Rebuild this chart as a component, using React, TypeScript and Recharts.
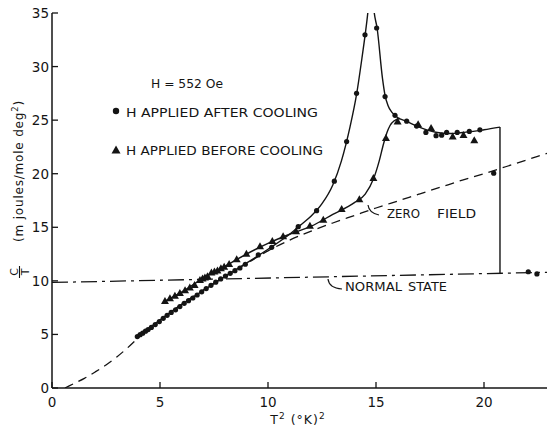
import React from 'react';
import { ComposedChart, Line, Scatter, XAxis, YAxis } from 'recharts';

// ---- tick values ----
const xTicks = [0, 5, 10, 15, 20];
const yTicks = [0, 5, 10, 15, 20, 25, 30, 35];
const topTicks = [5, 10, 15, 20];
const rightTicks = [5, 10, 15, 20, 25, 30];

// ---- H applied after cooling (circles) ----
const afterPoints: [number, number][] = [
  [3.95, 4.8], [4.08, 4.98], [4.2, 5.12], [4.33, 5.3], [4.45, 5.45], [4.6, 5.65],
  [4.78, 5.92], [4.97, 6.2], [5.15, 6.5], [5.33, 6.78], [5.52, 7.05], [5.72, 7.3],
  [5.92, 7.6], [6.12, 7.9], [6.32, 8.15], [6.52, 8.4], [6.72, 8.68], [6.93, 8.98],
  [7.14, 9.28], [7.36, 9.58], [7.58, 9.88], [7.81, 10.18], [8.03, 10.45], [8.25, 10.7],
  [8.47, 10.95], [8.7, 11.2], [8.95, 11.55], [9.55, 12.42], [10.17, 13.13], [11.4, 15.06],
  [12.25, 16.55], [13.07, 19.3], [13.64, 23.0], [14.1, 27.5], [14.49, 32.96],
  [15.03, 33.6], [15.42, 27.2], [15.88, 25.45], [16.42, 24.9], [16.88, 24.45],
  [17.31, 23.85], [17.78, 23.55], [18.04, 23.6], [18.27, 23.85], [18.76, 23.85],
  [19.32, 23.95], [19.81, 24.1], [20.45, 20.05], [22.05, 10.85], [22.45, 10.65],
];

// ---- H applied before cooling (triangles) ----
const beforePoints: [number, number][] = [
  [5.23, 8.1], [5.46, 8.35], [5.69, 8.6], [5.92, 8.85], [6.16, 9.1], [6.38, 9.35],
  [6.6, 9.6], [6.85, 10.05], [6.97, 10.2], [7.08, 10.3], [7.2, 10.4], [7.38, 10.75],
  [7.52, 10.85], [7.66, 10.95], [7.82, 11.15], [7.97, 11.3], [8.2, 11.55], [8.55, 12.0],
  [9.0, 12.5], [9.63, 13.2], [10.2, 13.7], [10.7, 14.15], [11.3, 14.6], [11.94, 15.13],
  [12.56, 15.69], [13.41, 16.68], [14.23, 17.6], [14.88, 19.58], [15.46, 23.31],
  [16.0, 24.85], [16.95, 24.6], [17.55, 24.25], [18.55, 23.45], [19.05, 23.6], [19.55, 23.1],
];

// ---- smooth drawn curves ----
const afterCurve: [number, number][] = [
  [3.95, 4.8], [5, 6.35], [6, 7.8], [7, 9.1], [8, 10.4], [9, 11.65], [10, 12.95],
  [11, 14.35], [11.5, 15.2], [12, 16.05], [12.5, 17.2], [13, 18.95], [13.4, 21.2],
  [13.8, 24.4], [14.1, 27.4], [14.35, 30.8], [14.5, 33.0], [14.62, 35.0], [14.77, 38.5],
  [14.92, 35.0], [15.05, 33.6], [15.3, 28.9], [15.42, 27.3], [15.55, 26.4], [15.75, 25.7],
  [16, 25.25], [16.4, 24.9], [17, 24.35], [17.5, 24.0], [18, 23.8], [18.5, 23.75],
  [19, 23.85], [19.5, 23.95], [20, 24.1], [20.74, 24.35],
];
const dropLine: [number, number][] = [[20.74, 24.35], [20.74, 10.72]];

const beforeCurve: [number, number][] = [
  [5.23, 8.1], [6, 8.95], [7, 10.25], [8, 11.35], [9, 12.5], [10, 13.5], [11, 14.35],
  [12, 15.1], [13, 16.2], [14, 17.3], [14.5, 18.1], [14.9, 19.6], [15.15, 21.2],
  [15.35, 22.8], [15.5, 23.8], [15.65, 24.5], [15.85, 24.95], [16.1, 25.15],
];

const zeroField: [number, number][] = [
  [0.6, 0], [1, 0.4], [1.5, 0.9], [2, 1.5], [2.5, 2.15], [3, 2.9], [3.5, 3.75], [4, 4.7],
  [5, 6.3], [6, 7.8], [7, 9.15], [8, 10.4], [9, 11.6], [10, 12.8], [11, 13.8], [12, 14.65],
  [13, 15.4], [14, 16.1], [15, 16.8], [16, 17.45], [17, 18.1], [18, 18.75], [19, 19.4],
  [20, 20.0], [21, 20.65], [22, 21.3], [23, 21.95],
];

const normalState: [number, number][] = [[0, 9.85], [23, 10.8]];

const toXY = (pts: [number, number][]) => pts.map(([x, y]) => ({ x, y }));

const INK = '#141414';
const FONT = '"DejaVu Sans", "Liberation Sans", sans-serif';

const LeftTick = (props: any) => {
  const { x, y, payload } = props;
  return (
    <g>
      <line x1={x} x2={x + 6} y1={y} y2={y} stroke={INK} strokeWidth={1.3} />
      <text x={x - 3} y={y + 5} textAnchor="end" fontFamily={FONT} fontSize={13.5} fill={INK}>
        {payload.value}
      </text>
    </g>
  );
};

const BottomTick = (props: any) => {
  const { x, y, payload } = props;
  return (
    <g>
      <line x1={x} x2={x} y1={y} y2={y - 6} stroke={INK} strokeWidth={1.3} />
      <text x={x} y={y + 19} textAnchor="middle" fontFamily={FONT} fontSize={13.5} fill={INK}>
        {payload.value}
      </text>
    </g>
  );
};

const CircleMark = (props: any) => {
  const { cx, cy } = props;
  if (cx == null || cy == null) return null;
  return <circle cx={cx} cy={cy} r={2.6} fill={INK} />;
};

const TriangleMark = (props: any) => {
  const { cx, cy } = props;
  if (cx == null || cy == null) return null;
  return <path d={`M${cx},${cy - 4.2} L${cx + 4},${cy + 2.8} L${cx - 4},${cy + 2.8} Z`} fill={INK} />;
};

const txt = { fontFamily: FONT, fill: INK } as const;

export default function App() {
  return (
    <div style={{ position: 'absolute', left: 0, top: 0, width: 547, height: 428, overflow: 'hidden', background: '#fff' }}>
      <ComposedChart width={560} height={428} margin={{ top: 13, right: 11.2, bottom: 0, left: 0 }}>
        <XAxis
          xAxisId="b" dataKey="x" type="number" domain={[0, 23]} ticks={xTicks} interval={0}
          height={40} tickSize={0} tickMargin={0} tickLine={false} tick={<BottomTick />}
          axisLine={{ stroke: INK, strokeWidth: 1.5 }} allowDataOverflow
        />
        <XAxis
          xAxisId="t" orientation="top" type="number" domain={[0, 23]} ticks={topTicks} interval={0}
          height={0} tick={false} tickSize={-4} tickLine={{ stroke: INK, strokeWidth: 1.2 }}
          axisLine={{ stroke: INK, strokeWidth: 1.4 }} allowDataOverflow
        />
        <YAxis
          yAxisId="l" dataKey="y" type="number" domain={[0, 35]} ticks={yTicks} interval={0}
          width={52} tickSize={0} tickMargin={0} tickLine={false} tick={<LeftTick />}
          axisLine={{ stroke: INK, strokeWidth: 1.5 }} allowDataOverflow
        />
        <YAxis
          yAxisId="r" orientation="right" type="number" domain={[0, 35]} ticks={rightTicks} interval={0}
          width={0} tick={false} tickSize={-5} tickLine={{ stroke: INK, strokeWidth: 1.2 }}
          axisLine={{ stroke: INK, strokeWidth: 1.4 }} allowDataOverflow
        />

        <Line xAxisId="b" yAxisId="l" data={toXY(normalState)} dataKey="y" type="linear" dot={false} activeDot={false}
          stroke={INK} strokeWidth={1.3} strokeDasharray="16 5 3 5" isAnimationActive={false} />
        <Line xAxisId="b" yAxisId="l" data={toXY(zeroField)} dataKey="y" type="monotone" dot={false} activeDot={false}
          stroke={INK} strokeWidth={1.3} strokeDasharray="9 6" isAnimationActive={false} />
        <Line xAxisId="b" yAxisId="l" data={toXY(afterCurve)} dataKey="y" type="monotone" dot={false} activeDot={false}
          stroke={INK} strokeWidth={1.4} isAnimationActive={false} />
        <Line xAxisId="b" yAxisId="l" data={toXY(beforeCurve)} dataKey="y" type="monotone" dot={false} activeDot={false}
          stroke={INK} strokeWidth={1.4} isAnimationActive={false} />
        <Line xAxisId="b" yAxisId="l" data={toXY(dropLine)} dataKey="y" type="linear" dot={false} activeDot={false}
          stroke={INK} strokeWidth={1.4} isAnimationActive={false} />

        <Scatter xAxisId="b" yAxisId="l" data={toXY(afterPoints)} shape={CircleMark} isAnimationActive={false} />
        <Scatter xAxisId="b" yAxisId="l" data={toXY(beforePoints)} shape={TriangleMark} isAnimationActive={false} />
      </ComposedChart>

      <svg width={547} height={428} style={{ position: 'absolute', left: 0, top: 0, pointerEvents: 'none' }}>
        {/* annotations */}
        <text x={151} y={88} fontSize={12.5} textLength={72} lengthAdjust="spacingAndGlyphs" {...txt}>H = 552 Oe</text>
        <circle cx={116} cy={111} r={3.2} fill={INK} />
        <text x={126} y={117} fontSize={12.5} textLength={192} lengthAdjust="spacingAndGlyphs" {...txt}>H APPLIED AFTER COOLING</text>
        <path d="M116,145.5 L120.5,153.5 L111.5,153.5 Z" fill={INK} />
        <text x={126} y={155} fontSize={12.5} textLength={197} lengthAdjust="spacingAndGlyphs" {...txt}>H APPLIED BEFORE COOLING</text>

        <path d="M368,205 Q369,213 379,215" fill="none" stroke={INK} strokeWidth={1.2} />
        <text x={387} y={218} fontSize={12.5} textLength={33} lengthAdjust="spacingAndGlyphs" {...txt}>ZERO</text>
        <text x={437} y={218} fontSize={12.5} textLength={39} lengthAdjust="spacingAndGlyphs" {...txt}>FIELD</text>

        <path d="M328,279 Q329,288 342,289" fill="none" stroke={INK} strokeWidth={1.2} />
        <text x={345} y={291} fontSize={12.5} textLength={57} lengthAdjust="spacingAndGlyphs" {...txt}>NORMAL</text>
        <text x={408} y={291} fontSize={12.5} textLength={39} lengthAdjust="spacingAndGlyphs" {...txt}>STATE</text>

        {/* x axis label */}
        <text x={298} y={424} textAnchor="middle" fontSize={12.5} letterSpacing={1} {...txt}>
          T<tspan dy={-5} fontSize={9}>2</tspan><tspan dy={5}> (°K)</tspan><tspan dy={-5} fontSize={9}>2</tspan>
        </text>

        {/* y axis label */}
        <text transform="translate(23,171) rotate(-90)" textAnchor="middle" fontSize={12} letterSpacing={0.8} {...txt}>
          (m joules/mole deg<tspan dy={-5} fontSize={8.5}>2</tspan><tspan dy={5}>)</tspan>
        </text>
        <text transform="translate(17.5,272) rotate(-90)" textAnchor="middle" fontSize={11} {...txt}>C</text>
        <line x1={19.5} x2={19.5} y1={266} y2={278} stroke={INK} strokeWidth={1.1} />
        <text transform="translate(29,272) rotate(-90)" textAnchor="middle" fontSize={11} {...txt}>T</text>
      </svg>
    </div>
  );
}
